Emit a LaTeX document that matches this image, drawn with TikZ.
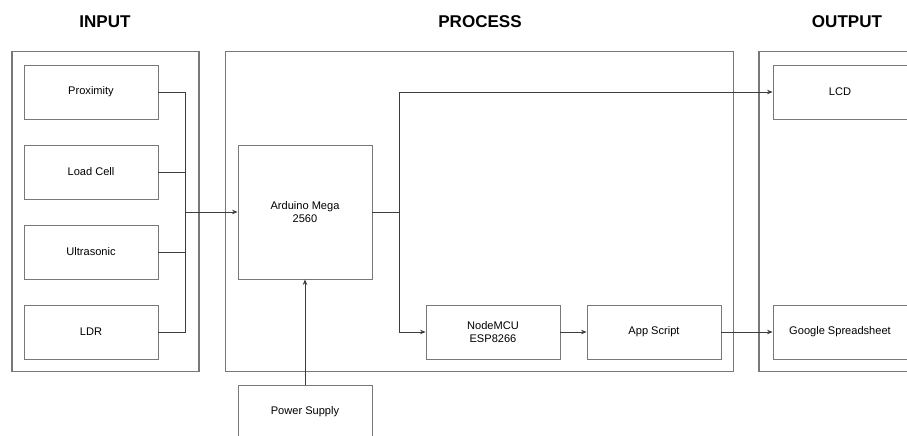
\documentclass[tikz,border=0pt]{standalone}
\usepackage{fontspec}
\setmainfont{Liberation Sans}
\definecolor{BoxGray}{RGB}{120,120,120}
\definecolor{LineGray}{RGB}{60,60,60}
\usetikzlibrary{
    arrows.meta,
    positioning,
    calc,
}

\begin{document}
\begin{tikzpicture}[
    x=0.02cm, y=-0.02cm,
    blk/.style={draw=BoxGray, line width=0.5pt, minimum width=2.68cm, minimum height=1.08cm, font=\fontsize{6.3}{7.6}\selectfont, align=center, inner sep=0pt},
    frame/.style={draw=BoxGray, line width=0.6pt, minimum height=6.42cm, inner sep=0pt},
    title/.style={font=\fontsize{9.7}{11}\selectfont\bfseries},
    wire/.style={draw=LineGray, line width=0.5pt},
    arr/.style={wire, -{Stealth[length=1.1mm, width=0.9mm]}}
]
    \clip (0,0) rectangle (907,436);
    \node[title] (tin)  at (105,22) {INPUT};
    \node[title] (tpro) at (480,22) {PROCESS};
    \node[title] (tout) at (847,22) {OUTPUT};
    \node[frame, minimum width=3.74cm]  (fin)  at (105.5,211.5) {};
    \node[frame, minimum width=10.18cm] (fpro) at (479.5,211.5) {};
    \node[frame, minimum width=3.32cm]  (fout) at (842,211.5) {};
    \node[blk] (prox)  at (91,92)  {Proximity};
    \node[blk] (load)  at (91,172) {Load Cell};
    \node[blk] (ultra) at (91,252) {Ultrasonic};
    \node[blk] (ldr)   at (91,332) {LDR};
    \node[blk, minimum height=2.68cm] (ard) at (305,212) {Arduino Mega\\2560};
    \node[blk] (psu)   at (305,412) {Power Supply};
    \node[blk] (mcu)   at (493,332) {NodeMCU\\ESP8266};
    \node[blk] (apps)  at (654,332) {App Script};
    \node[blk] (lcd)   at (840,92)  {LCD};
    \node[blk] (sheet) at (840,332) {Google Spreadsheet};
    \coordinate (bus) at (185,212);
    \coordinate (split) at (399,212);
    \foreach \s in {prox,load,ultra,ldr}
        \draw[wire] (\s.east) -| (bus);
    \draw[arr] (bus) -- (ard.west);
    \draw[wire] (ard.east) -- (split);
    \draw[arr] (split) |- (lcd.west);
    \draw[arr] (split) |- (mcu.west);
    \draw[arr] (mcu) -- (apps);
    \draw[arr] (apps) -- (sheet);
    \draw[arr] (psu) -- (ard);
\end{tikzpicture}
\end{document}
